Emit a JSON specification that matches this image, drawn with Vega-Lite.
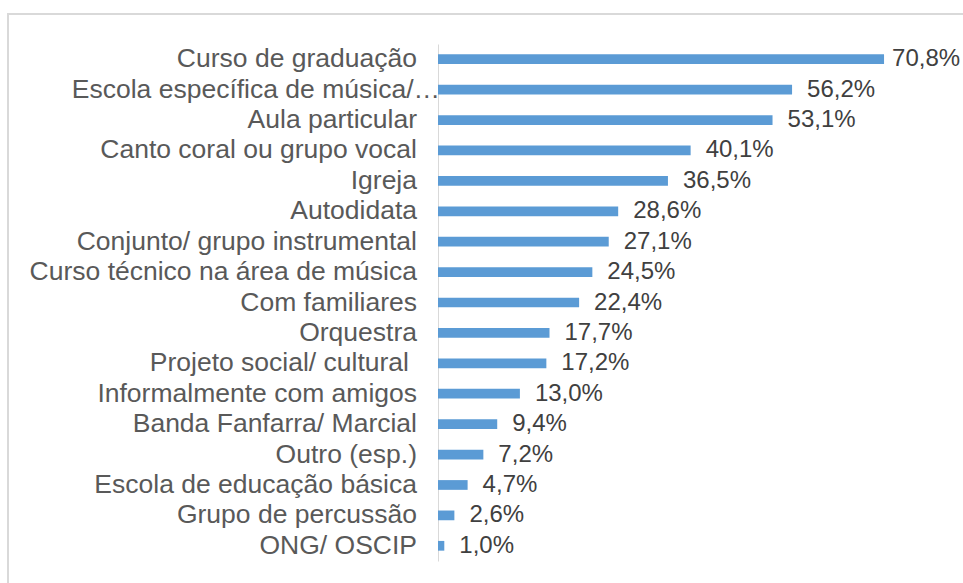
{
  "$schema": "https://vega.github.io/schema/vega-lite/v6.json",
  "width": 960,
  "height": 575,
  "autosize": "none",
  "padding": {"left": 8, "top": 14, "right": 0, "bottom": 0},
  "background": "white",
  "config": {
    "view": {"stroke": "#d9d9d9", "strokeWidth": 2},
    "font": "Liberation Sans",
    "locale": {"number": {"decimal": ",", "thousands": ".", "grouping": [3], "currency": ["", ""]}}
  },
  "data": {
    "values": [
      {"categoria": "Curso de graduação", "valor": 0.708},
      {"categoria": "Escola específica de música/…", "valor": 0.562},
      {"categoria": "Aula particular", "valor": 0.531},
      {"categoria": "Canto coral ou grupo vocal", "valor": 0.401},
      {"categoria": "Igreja", "valor": 0.365},
      {"categoria": "Autodidata", "valor": 0.286},
      {"categoria": "Conjunto/ grupo instrumental", "valor": 0.271},
      {"categoria": "Curso técnico na área de música", "valor": 0.245},
      {"categoria": "Com familiares", "valor": 0.224},
      {"categoria": "Orquestra", "valor": 0.177},
      {"categoria": "Projeto social/ cultural ", "valor": 0.172},
      {"categoria": "Informalmente com amigos", "valor": 0.130},
      {"categoria": "Banda Fanfarra/ Marcial", "valor": 0.094},
      {"categoria": "Outro (esp.)", "valor": 0.072},
      {"categoria": "Escola de educação básica", "valor": 0.047},
      {"categoria": "Grupo de percussão", "valor": 0.026},
      {"categoria": "ONG/ OSCIP", "valor": 0.010}
    ]
  },
  "encoding": {
    "y": {
      "field": "categoria",
      "type": "nominal",
      "sort": null,
      "scale": {"range": [30, 547], "paddingInner": 0.68, "paddingOuter": 0.34},
      "axis": {
        "title": null,
        "offset": -430,
        "ticks": false,
        "labels": false,
        "domainColor": "#d9d9d9",
        "domainWidth": 1
      }
    },
    "x": {
      "field": "valor",
      "type": "quantitative",
      "scale": {"domain": [0, 0.8], "range": [430, 934], "nice": false, "zero": true},
      "axis": null
    }
  },
  "layer": [
    {"mark": {"type": "bar", "color": "#5b9bd5"}},
    {
      "mark": {
        "type": "text",
        "align": "left",
        "baseline": "middle",
        "dx": {"expr": "datum.valor > 0.7 ? 8 : 15"},
        "fontSize": 24,
        "color": "#404040",
        "font": "Liberation Sans"
      },
      "encoding": {"text": {"field": "valor", "type": "quantitative", "format": ".1%"}}
    },
    {
      "mark": {
        "type": "text",
        "align": "right",
        "baseline": "middle",
        "fontSize": 26.5,
        "color": "#595959",
        "font": "Liberation Sans",
        "dx": {"expr": "datum.categoria === 'Escola específica de música/…' ? 2 : (datum.categoria === 'Projeto social/ cultural ' ? -29 : -21)"}
      },
      "encoding": {
        "x": {"datum": 0},
        "text": {"field": "categoria", "type": "nominal"}
      }
    }
  ]
}
